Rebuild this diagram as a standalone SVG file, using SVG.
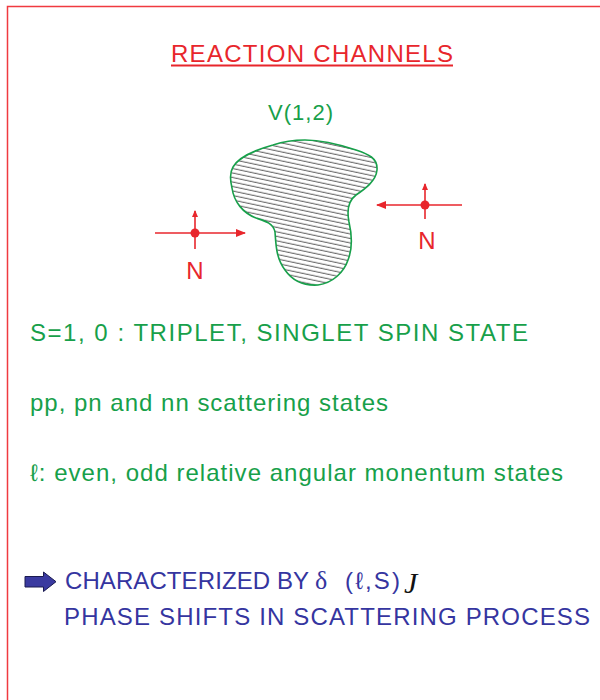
<svg xmlns="http://www.w3.org/2000/svg" width="600" height="700" viewBox="0 0 600 700">
<style>
.t{font-family:"Liberation Sans","DejaVu Sans",sans-serif;}
.g{fill:#17a04a;font-size:24px;}
.b{fill:#3535a0;font-size:24px;}
.r{fill:#e8262c;}
.red{stroke:#e8262c;stroke-width:1.6;fill:none;}
</style>
<defs>
<pattern id="hatch" width="8" height="4.4" patternUnits="userSpaceOnUse" patternTransform="rotate(12)">
<rect width="8" height="4.4" fill="#fff"/>
<line x1="0" y1="2" x2="8" y2="2" stroke="#222" stroke-width="0.8"/>
</pattern>
<marker id="ah" markerWidth="10" markerHeight="8" refX="9" refY="4" orient="auto" markerUnits="userSpaceOnUse">
<path d="M0,0 L10,4 L0,8 z" fill="#e8262c"/>
</marker>
<marker id="ahs" markerWidth="7" markerHeight="8" refX="6" refY="4" orient="auto" markerUnits="userSpaceOnUse">
<path d="M0,1 L7,4 L0,7 z" fill="#e8262c"/>
</marker>
</defs>
<rect x="0" y="0" width="600" height="700" fill="#fff"/>
<rect x="7.5" y="6.5" width="600" height="700" fill="#fff" stroke="#f03a40" stroke-width="1.5"/>

<g id="title">
<text class="t r" x="171" y="62" font-size="24" textLength="282">REACTION CHANNELS</text>
<line x1="171" y1="65.5" x2="453" y2="65.5" stroke="#e8262c" stroke-width="2"/>
</g>

<g id="potential">
<text class="t" x="268" y="120" font-size="22" fill="#17a04a" textLength="65">V(1,2)</text>
<path d="M233,167 C238,158 255,150 273,145 C285,141 296,140 305,140 C318,140 335,143 356,150 C368,154 378,158 377,170 C376,181 365,189 356,195 C348,201 347,212 349,222 C352,235 352,250 348,260 C344,272 333,283 318,285 C303,286 292,280 285,270 C276,258 276,245 275,232 C273,223 265,221 256,218 C243,213 234,202 232,188 C230,180 230,172 233,167 Z" fill="url(#hatch)" stroke="#17a04a" stroke-width="1.6"/>
</g>

<g id="nucleon-left">
<circle cx="195" cy="233" r="4.5" fill="#e8262c"/>
<text class="t r" x="195" y="279" font-size="24" text-anchor="middle">N</text>
</g>
<g id="nucleon-right">
<circle cx="425" cy="205" r="4.5" fill="#e8262c"/>
<text class="t r" x="427" y="249" font-size="24" text-anchor="middle">N</text>
</g>

<g id="connectors">
<line class="red" x1="155" y1="233" x2="245" y2="233" marker-end="url(#ah)"/>
<line class="red" x1="195" y1="249" x2="195" y2="211" marker-end="url(#ahs)"/>
<line class="red" x1="462" y1="205" x2="377" y2="205" marker-end="url(#ah)"/>
<line class="red" x1="425" y1="219" x2="425" y2="184" marker-end="url(#ahs)"/>
</g>

<g id="lines">
<text class="t g" x="30" y="341" textLength="498">S=1, 0  : TRIPLET, SINGLET SPIN STATE</text>
<text class="t g" x="30" y="411" textLength="358">pp, pn and nn scattering states</text>
<text class="t g" x="30" y="481" textLength="533">ℓ: even, odd relative angular monentum states</text>
</g>

<g id="conclusion">
<path d="M25,576.5 L43.5,576.5 L43.5,572 L56,581.7 L43.5,591.5 L43.5,587 L25,587 Z" fill="#3a3aa0" stroke="#1a1a50" stroke-width="1"/>
<text class="t b" x="65" y="589" textLength="244">CHARACTERIZED BY</text>
<text x="315" y="589" font-family="Liberation Serif, serif" font-size="26" fill="#3535a0">δ</text>
<text class="t b" x="345" y="589" textLength="55">(ℓ,S)</text>
<text x="404" y="593" font-family="Liberation Serif, serif" font-style="italic" font-size="30" fill="#111">J</text>
<text class="t b" x="64" y="625" textLength="526">PHASE SHIFTS IN SCATTERING PROCESS</text>
</g>
</svg>
